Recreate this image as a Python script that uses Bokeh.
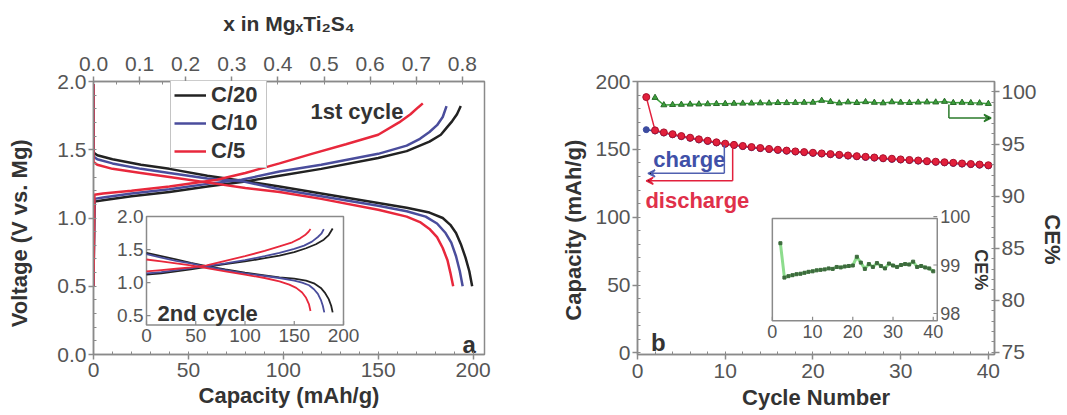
import math
from bokeh.plotting import figure
from bokeh.models import (Range1d, LinearAxis, FixedTicker, PrintfTickFormatter,
                          Legend, LegendItem, Arrow, VeeHead)
from bokeh.layouts import row
from bokeh.embed import file_html
from bokeh.resources import INLINE
from bokeh.core.properties import value

FONT = "Liberation Sans"

# ---------------- Panel a: 1st cycle (voltage vs capacity) ----------------
dis20_cap = [0, 0, 2, 10, 25, 40, 60, 80, 98, 120, 150, 165, 177, 184, 188, 191, 193.5, 196, 198, 199.5]
dis20_v = [1.98, 1.48, 1.46, 1.43, 1.39, 1.36, 1.31, 1.27, 1.23, 1.18, 1.11, 1.075, 1.04, 1.00, 0.95, 0.89, 0.81, 0.71, 0.61, 0.50]
dis10_cap = [0, 0, 2, 10, 25, 40, 60, 78, 98, 120, 150, 165, 175, 181, 185.5, 188.5, 191, 193, 194.5]
dis10_v = [1.98, 1.45, 1.43, 1.40, 1.36, 1.33, 1.29, 1.27, 1.21, 1.16, 1.09, 1.05, 1.01, 0.96, 0.89, 0.82, 0.72, 0.61, 0.50]
dis5_cap = [0, 0, 2, 10, 25, 40, 65, 80, 98, 120, 150, 165, 172, 177, 181, 184, 186.5, 188, 189.5]
dis5_v = [1.98, 1.41, 1.39, 1.36, 1.33, 1.30, 1.25, 1.22, 1.19, 1.14, 1.06, 1.01, 0.97, 0.92, 0.86, 0.78, 0.69, 0.60, 0.50]

chg20_cap = [0, 0.5, 5, 20, 40, 60, 81, 98, 120, 150, 165, 177, 183, 186, 189, 191.5, 193.5]
chg20_v = [0.50, 1.12, 1.13, 1.16, 1.19, 1.23, 1.27, 1.31, 1.36, 1.44, 1.49, 1.56, 1.61, 1.66, 1.71, 1.76, 1.82]
chg10_cap = [0, 0.5, 5, 20, 40, 60, 78, 98, 120, 150, 165, 172, 177, 181, 184, 186]
chg10_v = [0.50, 1.14, 1.15, 1.18, 1.21, 1.25, 1.28, 1.34, 1.39, 1.47, 1.53, 1.58, 1.63, 1.68, 1.74, 1.82]
chg5_cap = [0, 0.5, 5, 20, 40, 65, 80, 98, 115, 133, 150, 161, 167, 171, 173.5]
chg5_v = [0.50, 1.17, 1.18, 1.20, 1.23, 1.28, 1.33, 1.40, 1.47, 1.54, 1.61, 1.70, 1.76, 1.81, 1.84]

# inset: 2nd cycle
i_dis20_cap = [0, 15, 30, 45, 61, 80, 100, 120, 135, 150, 162, 170, 177, 181, 185, 187.5, 189]
i_dis20_v = [1.45, 1.40, 1.35, 1.30, 1.25, 1.20, 1.15, 1.11, 1.08, 1.06, 1.03, 0.99, 0.92, 0.85, 0.75, 0.65, 0.55]
i_dis10_cap = [0, 15, 30, 45, 61, 80, 100, 120, 135, 150, 158, 165, 170, 174, 177, 179, 180.5]
i_dis10_v = [1.43, 1.38, 1.33, 1.29, 1.24, 1.19, 1.14, 1.10, 1.07, 1.03, 1.00, 0.96, 0.90, 0.83, 0.74, 0.65, 0.55]
i_dis5_cap = [0, 15, 30, 45, 61, 80, 100, 120, 135, 145, 152, 158, 162, 165, 166.5]
i_dis5_v = [1.35, 1.32, 1.29, 1.26, 1.22, 1.17, 1.12, 1.07, 1.02, 0.97, 0.92, 0.85, 0.77, 0.67, 0.57]
i_chg20_cap = [0, 15, 30, 45, 61, 80, 100, 120, 135, 150, 162, 172, 180, 185, 189]
i_chg20_v = [1.12, 1.14, 1.17, 1.20, 1.24, 1.28, 1.32, 1.37, 1.41, 1.46, 1.52, 1.58, 1.65, 1.72, 1.82]
i_chg10_cap = [0, 15, 30, 45, 61, 80, 100, 120, 135, 150, 160, 168, 174, 177.5, 180]
i_chg10_v = [1.14, 1.16, 1.19, 1.22, 1.25, 1.29, 1.34, 1.40, 1.45, 1.51, 1.56, 1.62, 1.69, 1.74, 1.81]
i_chg5_cap = [0, 15, 30, 45, 61, 80, 100, 120, 135, 148, 156, 161, 164.5, 166.5]
i_chg5_v = [1.17, 1.19, 1.21, 1.23, 1.26, 1.33, 1.40, 1.48, 1.55, 1.61, 1.67, 1.72, 1.77, 1.81]

rates = ["C/20", "C/10", "C/5"]

a_cap_ticks = [0, 50, 100, 150, 200]
a_v_ticks = [0.0, 0.5, 1.0, 1.5, 2.0]
a_x_ticks = [0.0, 0.1, 0.2, 0.3, 0.4, 0.5, 0.6, 0.7, 0.8]
ai_cap_ticks = [0, 50, 100, 150, 200]
ai_v_ticks = [0.5, 1.0, 1.5, 2.0]

# ---------------- Panel b: cycling ----------------
cycles = list(range(1, 41))
discharge = [188.5, 164.0, 162.5, 161.2, 159.8, 158.6, 157.4, 156.3, 155.2, 154.2,
             153.3, 152.5, 151.7, 151.0, 150.3, 149.7, 149.1, 148.5, 148.0, 147.5,
             147.0, 146.5, 146.0, 145.5, 145.0, 144.5, 144.0, 143.5, 143.1, 142.6,
             142.2, 141.8, 141.3, 140.9, 140.5, 140.1, 139.6, 139.2, 138.8, 138.3]
charge = [164.5, 163.5, 162.0, 160.7, 159.3, 158.1, 156.9, 155.8, 154.7, 153.7,
          152.8, 152.0, 151.2, 150.5, 149.8, 149.2, 148.6, 148.0, 147.5, 147.0,
          146.5, 146.0, 145.5, 145.0, 144.5, 144.0, 143.5, 143.0, 142.6, 142.1,
          141.7, 141.3, 140.8, 140.4, 140.0, 139.6, 139.1, 138.7, 138.3, 137.8]
ce_cycles = list(range(2, 41))
ce = [99.45, 98.74, 98.77, 98.79, 98.81, 98.82, 98.84, 98.86, 98.87, 98.89,
      98.90, 98.91, 98.93, 98.92, 98.96, 98.95, 98.97, 98.98, 98.99, 99.17,
      99.05, 98.92, 99.02, 98.96, 99.04, 98.98, 98.93, 99.03, 98.99, 98.96,
      99.00, 99.02, 99.01, 99.07, 98.96, 98.98, 98.95, 98.93, 98.87]

b_cyc_ticks = [0, 10, 20, 30, 40]
b_cap_ticks = [0, 50, 100, 150, 200]
b_ce_ticks = [75, 80, 85, 90, 95, 100]
bi_cyc_ticks = [0, 10, 20, 30, 40]
bi_ce_ticks = [98, 99, 100]

# ---------------- layout constants (pixels) ----------------
H = 415
W_A, W_B = 540, 527
A_L, A_R, A_T, A_B = 93, 484, 81, 358
AI_L, AI_R, AI_T, AI_B = 146, 343, 218, 328
B_L, B_R, B_T, B_B = 97, 465, 79, 354
BI_L, BI_R, BI_T, BI_B = 236, 406, 217, 320
NB = "\u00a0"  # padding used to shift axis titles off-centre like the original

BLACK = "#222222"
BLUE = "#4a4d9c"
RED = "#e8283c"
GRAY = "#8a8a8a"
TICK_TXT = "#555555"
LABEL_TXT = "#333333"
GREEN = "#3aa03a"


def span_range(d0, d1, p0, p1, f1):
    s = (p1 - p0) / (d1 - d0)
    return Range1d(start=d0 - p0 / s, end=d1 + (f1 - p1) / s)


def mk_fig(w, L, R, T, B, xr, yr):
    p = figure(width=w, height=H, x_range=xr, y_range=yr, output_backend="svg",
               toolbar_location=None, min_border_left=L, min_border_right=w - R,
               min_border_top=T, min_border_bottom=H - B,
               background_fill_color="white", border_fill_color="white",
               outline_line_color=GRAY, outline_line_width=1.5)
    p.grid.visible = False
    return p


def style_axis(ax, standoff=4, lstand=2):
    ax.axis_line_color = GRAY
    ax.axis_line_width = 1.5
    ax.major_tick_line_color = GRAY
    ax.minor_tick_line_color = GRAY
    ax.major_tick_line_width = 1.5
    ax.major_tick_out = 5
    ax.major_tick_in = 0
    ax.minor_tick_out = 0
    ax.minor_tick_in = 3
    ax.major_label_text_font = FONT
    ax.major_label_text_font_size = "21px"
    ax.major_label_text_color = TICK_TXT
    ax.major_label_standoff = lstand
    ax.axis_label_text_font = FONT
    ax.axis_label_text_font_style = "bold"
    ax.axis_label_text_font_size = "22px"
    ax.axis_label_text_color = LABEL_TXT
    ax.axis_label_standoff = standoff


def txt(p, x, y, s, size, color, bold=True, align="left", baseline="alphabetic", **kw):
    p.text(x=[x], y=[y], text=[s], text_font=value(FONT), text_font_size=size,
           text_color=color, text_font_style="bold" if bold else "normal",
           text_align=align, text_baseline=baseline, **kw)


# ================= Panel a =================
xa = Range1d(0, 206)
ya = Range1d(0, 2)
pa = mk_fig(W_A, A_L, A_R, A_T, A_B, xa, ya)
pa.extra_x_ranges = {
    "xmg": Range1d(0, 0.848),
    "ax": span_range(0, 200, AI_L - A_L, AI_R - A_L, A_R - A_L),
}
pa.extra_y_ranges = {"ay": span_range(0.36, 2.0, A_B - AI_B, A_B - AI_T, A_B - A_T)}

pa.xaxis.axis_label = "Capacity (mAh/g)"
pa.yaxis.axis_label = "Voltage (V vs. Mg)" + NB * 5
pa.xaxis.ticker = FixedTicker(ticks=a_cap_ticks, minor_ticks=list(range(0, 210, 10)))
pa.yaxis.ticker = FixedTicker(ticks=a_v_ticks, minor_ticks=[i / 10 for i in range(0, 21)])
pa.yaxis.formatter = PrintfTickFormatter(format="%.1f")
style_axis(pa.xaxis[0], standoff=3, lstand=3)
pa.xaxis[0].major_label_text_line_height = 0.9
pa.xaxis[0].axis_label_text_line_height = 0.9
style_axis(pa.yaxis[0], standoff=22)
top = LinearAxis(x_range_name="xmg", axis_label="x in Mg\u2093Ti\u2082S\u2084",
                 ticker=FixedTicker(ticks=a_x_ticks, minor_ticks=[i / 20 for i in range(0, 18)]),
                 formatter=PrintfTickFormatter(format="%.1f"))
style_axis(top, standoff=19, lstand=6)
top.axis_label_text_font_size = "21px"
pa.add_layout(top, "above")

curves_a = [
    (dis20_cap, dis20_v, chg20_cap, chg20_v, BLACK),
    (dis10_cap, dis10_v, chg10_cap, chg10_v, BLUE),
    (dis5_cap, dis5_v, chg5_cap, chg5_v, RED),
]
legend_items = []
for (dc, dv, cc, cv, col), lab in zip(curves_a, rates):
    r1 = pa.line(dc, dv, line_color=col, line_width=2.5)
    pa.line(cc, cv, line_color=col, line_width=2.5)
    legend_items.append(LegendItem(label=lab, renderers=[r1]))

legend = Legend(items=legend_items, location=(77, 186), label_text_font=FONT,
                label_text_font_size="22px", label_text_font_style="bold",
                label_text_color=LABEL_TXT, glyph_width=32, glyph_height=24,
                label_height=24, label_width=52, label_standoff=5, spacing=2,
                padding=3, margin=0, border_line_color=GRAY, border_line_width=1.5,
                background_fill_color="white", background_fill_alpha=1.0)
pa.add_layout(legend)

txt(pa, 114.3, 1.78, "1st cycle", "22px", LABEL_TXT)
txt(pa, 194.4, 0.072, "a", "24px", LABEL_TXT)

# inset a
sy_a = (AI_B - AI_T) / (2.0 - 0.36)
sx_a = (AI_R - AI_L) / 200.0
pa.quad(left=[0], right=[200], bottom=[0.36], top=[2.0], x_range_name="ax", y_range_name="ay",
        fill_color="white", line_color=GRAY, line_width=1.5)
pa.segment(x0=ai_cap_ticks, y0=[0.36] * 5, x1=ai_cap_ticks, y1=[0.36 + 4 / sy_a] * 5,
           x_range_name="ax", y_range_name="ay", line_color=GRAY, line_width=1.2)
pa.segment(x0=[0] * 4, y0=ai_v_ticks, x1=[4 / sx_a] * 4, y1=ai_v_ticks,
           x_range_name="ax", y_range_name="ay", line_color=GRAY, line_width=1.2)
pa.text(x=ai_cap_ticks, y=[0.36] * 5, text=[str(t) for t in ai_cap_ticks],
        x_range_name="ax", y_range_name="ay", text_font=value(FONT), text_font_size="19px",
        text_color=TICK_TXT, text_align="center", text_baseline="top", y_offset=4)
pa.text(x=[0] * 4, y=ai_v_ticks, text=["%.1f" % t for t in ai_v_ticks],
        x_range_name="ax", y_range_name="ay", text_font=value(FONT), text_font_size="19px",
        text_color=TICK_TXT, text_align="right", text_baseline="middle", x_offset=-3)
inset_a = [
    (i_dis20_cap, i_dis20_v, i_chg20_cap, i_chg20_v, BLACK),
    (i_dis10_cap, i_dis10_v, i_chg10_cap, i_chg10_v, BLUE),
    (i_dis5_cap, i_dis5_v, i_chg5_cap, i_chg5_v, RED),
]
for dc, dv, cc, cv, col in inset_a:
    pa.line(dc, dv, line_color=col, line_width=1.8, x_range_name="ax", y_range_name="ay")
    pa.line(cc, cv, line_color=col, line_width=1.8, x_range_name="ax", y_range_name="ay")
txt(pa, 11.2, 0.53, "2nd cycle", "22px", LABEL_TXT, x_range_name="ax", y_range_name="ay")

# ================= Panel b =================
xb = Range1d(0, 40.7)
yb = Range1d(-1.2, 200)
pb = mk_fig(W_B, B_L, B_R, B_T, B_B, xb, yb)
pb.extra_y_ranges = {"ce": Range1d(74.8, 101.0),
                     "biy": span_range(97.85, 99.96, B_B - BI_B, B_B - BI_T, B_B - B_T)}
pb.extra_x_ranges = {"bix": span_range(0, 41, BI_L - B_L, BI_R - B_L, B_R - B_L)}

pb.xaxis.axis_label = "Cycle Number"
pb.yaxis.axis_label = "Capacity (mAh/g)" + NB * 4
pb.xaxis.ticker = FixedTicker(ticks=b_cyc_ticks, minor_ticks=list(range(0, 41, 2)))
pb.yaxis.ticker = FixedTicker(ticks=b_cap_ticks, minor_ticks=list(range(0, 201, 10)))
style_axis(pb.xaxis[0], standoff=4, lstand=4)
pb.xaxis[0].major_label_text_line_height = 0.9
pb.xaxis[0].axis_label_text_line_height = 0.9
style_axis(pb.yaxis[0], standoff=6)
right = LinearAxis(y_range_name="ce", axis_label=NB * 7 + "CE%",
                   ticker=FixedTicker(ticks=b_ce_ticks, minor_ticks=list(range(75, 101))))
style_axis(right, standoff=0)
pb.add_layout(right, "right")

RED_B = "#e2203c"
BLUE_B = "#3c4ba0"
pb.line(cycles, charge, line_color=BLUE_B, line_width=1.5)
pb.scatter(cycles, charge, marker="circle", size=6, fill_color=BLUE_B, line_color=BLUE_B)
pb.line(cycles, discharge, line_color=RED_B, line_width=1.5)
pb.scatter(cycles, discharge, marker="circle", size=7, fill_color=RED_B, line_color="#a8102c")
pb.line(ce_cycles, ce, line_color=GREEN, line_width=1.5, y_range_name="ce")
pb.scatter(ce_cycles, ce, marker="triangle", size=6, fill_color=GREEN, line_color="#2a6a2a",
           y_range_name="ce")

txt(pb, 1.8, 142.5, "charge", "22px", "#4050a8")
txt(pb, 0.9, 112.2, "discharge", "22px", "#e0304a")
txt(pb, 1.55, 7.6, "b", "24px", LABEL_TXT)

pb.line([9.9, 9.9], [153, 132.3], line_color="#5060b0", line_width=1.5)
pb.add_layout(Arrow(end=VeeHead(size=7, line_color="#5060b0", line_width=1.5),
                    x_start=9.9, y_start=132.3, x_end=1.2, y_end=132.3,
                    line_color="#5060b0", line_width=1.5))
pb.line([10.85, 10.85], [151.5, 126.8], line_color=RED_B, line_width=1.5)
pb.add_layout(Arrow(end=VeeHead(size=7, line_color=RED_B, line_width=1.5),
                    x_start=10.85, y_start=126.8, x_end=1.0, y_end=126.8,
                    line_color=RED_B, line_width=1.5))
pb.line([35.5, 35.5], [98.8, 97.5], line_color="#2a7a2a", line_width=1.5, y_range_name="ce")
pb.add_layout(Arrow(end=VeeHead(size=7, line_color="#2a7a2a", line_width=1.5),
                    x_start=35.5, y_start=97.5, x_end=40.3, y_end=97.5,
                    line_color="#2a7a2a", line_width=1.5, y_range_name="ce"))

# inset b
sy_b = (BI_B - BI_T) / (99.96 - 97.85)
sx_b = (BI_R - BI_L) / 41.0
pb.quad(left=[0], right=[41], bottom=[97.85], top=[99.96], x_range_name="bix", y_range_name="biy",
        fill_color="white", line_color=GRAY, line_width=1.5)
pb.segment(x0=bi_cyc_ticks, y0=[97.85] * 5, x1=bi_cyc_ticks, y1=[97.85 + 4 / sy_b] * 5,
           x_range_name="bix", y_range_name="biy", line_color=GRAY, line_width=1.2)
pb.segment(x0=[41] * 3, y0=bi_ce_ticks, x1=[41 - 4 / sx_b] * 3, y1=bi_ce_ticks,
           x_range_name="bix", y_range_name="biy", line_color=GRAY, line_width=1.2)
pb.text(x=bi_cyc_ticks, y=[97.85] * 5, text=[str(t) for t in bi_cyc_ticks],
        x_range_name="bix", y_range_name="biy", text_font=value(FONT), text_font_size="18px",
        text_color=TICK_TXT, text_align="center", text_baseline="top", y_offset=4)
pb.text(x=[41] * 3, y=bi_ce_ticks, text=[str(t) for t in bi_ce_ticks],
        x_range_name="bix", y_range_name="biy", text_font=value(FONT), text_font_size="18px",
        text_color=TICK_TXT, text_align="left", text_baseline="middle", x_offset=3)
pb.text(x=[41], y=[98.9], text=["CE%"], x_range_name="bix", y_range_name="biy",
        text_font=value(FONT), text_font_size="18px", text_font_style="bold",
        text_color=LABEL_TXT, text_align="center", text_baseline="middle",
        angle=-math.pi / 2, x_offset=44)
pb.line(ce_cycles, ce, x_range_name="bix", y_range_name="biy", line_color="#8ddc8d", line_width=3)
pb.scatter(ce_cycles, ce, x_range_name="bix", y_range_name="biy", marker="square", size=3,
           fill_color="#3d6b3d", line_color="#3d6b3d")

layout = row(pa, pb)
open("out.html", "w").write(file_html(layout, INLINE))
